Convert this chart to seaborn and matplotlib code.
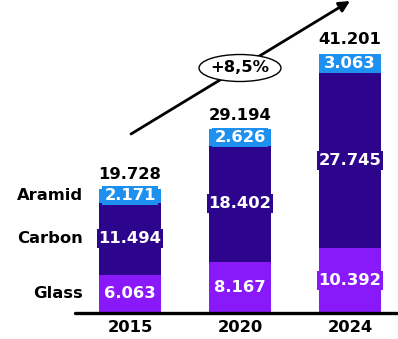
import matplotlib
matplotlib.use("Agg")
import matplotlib.pyplot as plt
from matplotlib.patches import Ellipse
import seaborn as sns

years = ['2015', '2020', '2024']
glass = [6063, 8167, 10392]
carbon = [11494, 18402, 27745]
aramid = [2171, 2626, 3063]
totals = [19728, 29194, 41201]
materials = ['Glass', 'Carbon', 'Aramid']
cagr_label = '+8,5%'

c_glass = '#8A19FA'
c_carbon = '#2D058C'
c_aramid = '#1E90F0'


def fmt(v):
    # thousands with a dot, as in the source
    return f"{v:,}".replace(",", ".")


sns.set_style("white")
plt.rcParams['font.family'] = ['DejaVu Sans']

W, H = 398, 339
fig = plt.figure(figsize=(W / 100, H / 100), dpi=100)
ax = fig.add_axes([0, 0, 1, 1])

stack_top = [g + c + a for g, c, a in zip(glass, carbon, aramid)]
stack_mid = [g + c for g, c in zip(glass, carbon)]

# overlapping bars from tallest to shortest give the stacked look
for heights, col in [(stack_top, c_aramid), (stack_mid, c_carbon), (glass, c_glass)]:
    sns.barplot(x=years, y=heights, color=col, width=0.555, saturation=1,
                errorbar=None, linewidth=0, ax=ax)

# pixel layout: first bar centre at 130 px, 110 px apart, baseline at 313 px from top
px_per = 6.29 / 1000
ax.set_xlim(-130 / 110, (W - 130) / 110)
ax.set_ylim(-(H - 313) / px_per, 313 / px_per)
ax.axis('off')

# baseline
ax.axhline(0, xmin=75 / W, xmax=1, color='black', lw=2.4, zorder=5)

font_sz = 11.8
seg_kw = dict(ha='center', va='center', color='white', fontsize=font_sz,
              fontweight='bold', zorder=6)
for i in range(len(years)):
    bottoms = [0, glass[i], glass[i] + carbon[i]]
    vals = [glass[i], carbon[i], aramid[i]]
    cols = [c_glass, c_carbon, c_aramid]
    for b, v, col in zip(bottoms, vals, cols):
        ax.text(i, b + v / 2, fmt(v),
                bbox=dict(boxstyle='square,pad=0.12', fc=col, ec='none'), **seg_kw)
    ax.text(i, stack_top[i] + 14 / px_per, fmt(totals[i]), ha='center', va='center',
            fontsize=font_sz, fontweight='bold', color='black')
    ax.text(i, -14 / px_per, years[i], ha='center', va='center',
            fontsize=font_sz, fontweight='bold', color='black')

# material names next to the first bar
for name, b, v in zip(materials, [0, glass[0], glass[0] + carbon[0]],
                      [glass[0], carbon[0], aramid[0]]):
    ax.text(-0.43, b + v / 2, name, ha='right', va='center', fontsize=font_sz,
            fontweight='bold', color='black')

# growth arrow with the CAGR bubble
ax.annotate('', xy=(350 / W, 1 - 1 / H), xytext=(131 / W, 1 - 134 / H),
            xycoords='axes fraction', textcoords='axes fraction',
            arrowprops=dict(arrowstyle='-|>', lw=2, color='black',
                            mutation_scale=16, shrinkA=0, shrinkB=0))
ax.add_patch(Ellipse((240 / W, 1 - 68 / H), 82 / W, 27 / H, transform=ax.transAxes,
                     fc='white', ec='black', lw=1, zorder=7))
ax.text(240 / W, 1 - 68 / H, cagr_label, transform=ax.transAxes, ha='center',
        va='center', fontsize=font_sz, fontweight='bold', color='black', zorder=8)

fig.savefig('out.png', dpi=100, facecolor='white')
